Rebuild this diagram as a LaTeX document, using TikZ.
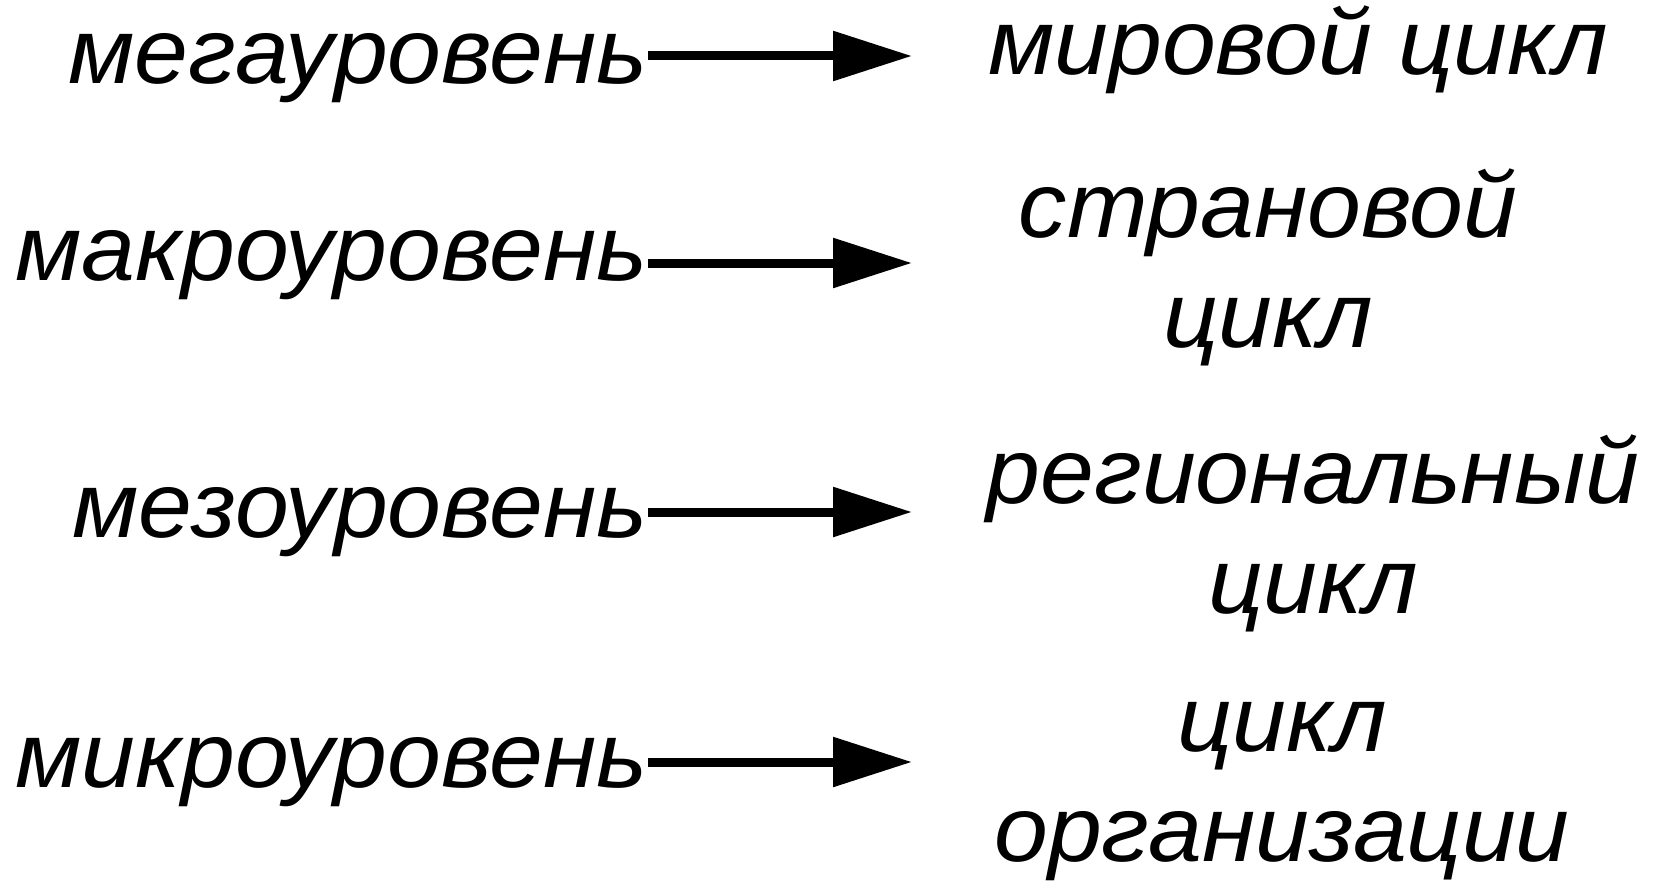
\documentclass[tikz,border=0pt]{standalone}
\usepackage{fontspec}
\newfontfamily\lvlfont{Liberation Sans}[FakeStretch=1.04]
\usetikzlibrary{arrows.meta}

\tikzset{
  lvltext/.style={font=\lvlfont\fontsize{93}{110}\selectfont\itshape, inner sep=0pt, anchor=base east},
  cyctext/.style={font=\lvlfont\fontsize{93}{110}\selectfont\itshape, inner sep=0pt, align=center},
  lvlarrow/.style={line width=9pt, -{Triangle[length=79pt,width=48pt]}}
}

\begin{document}
\begin{tikzpicture}[x=1pt,y=1pt,yscale=-1,xscale=1]
    \useasboundingbox (0,0) rectangle (1662,883);

    % Text Node: levels
    \node [lvltext] (mega)  at (648,83)  {мегауровень};
    \node [lvltext] (makro) at (648,280) {макроуровень};
    \node [lvltext] (mezo)  at (648,537) {мезоуровень};
    \node [lvltext] (mikro) at (648,787) {микроуровень};

    % Text Node: cycles
    \node [cyctext] (world)   at (1298,50)  {мировой цикл};
    \node [cyctext] (country) at (1268,267) {страновой\\цикл};
    \node [cyctext] (region)  at (1313,533) {региональный\\цикл};
    \node [cyctext] (firm)    at (1282,792) {цикл\\организации};

    % arrow tips
    \coordinate (tipA) at (912,56);
    \coordinate (tipB) at (912,263);
    \coordinate (tipC) at (912,512);
    \coordinate (tipD) at (912,762);

    % Arrows
    \draw [lvlarrow] (mega.east |- tipA)  -- (tipA);
    \draw [lvlarrow] (makro.east |- tipB) -- (tipB);
    \draw [lvlarrow] (mezo.east |- tipC)  -- (tipC);
    \draw [lvlarrow] (mikro.east |- tipD) -- (tipD);

\end{tikzpicture}
\end{document}
